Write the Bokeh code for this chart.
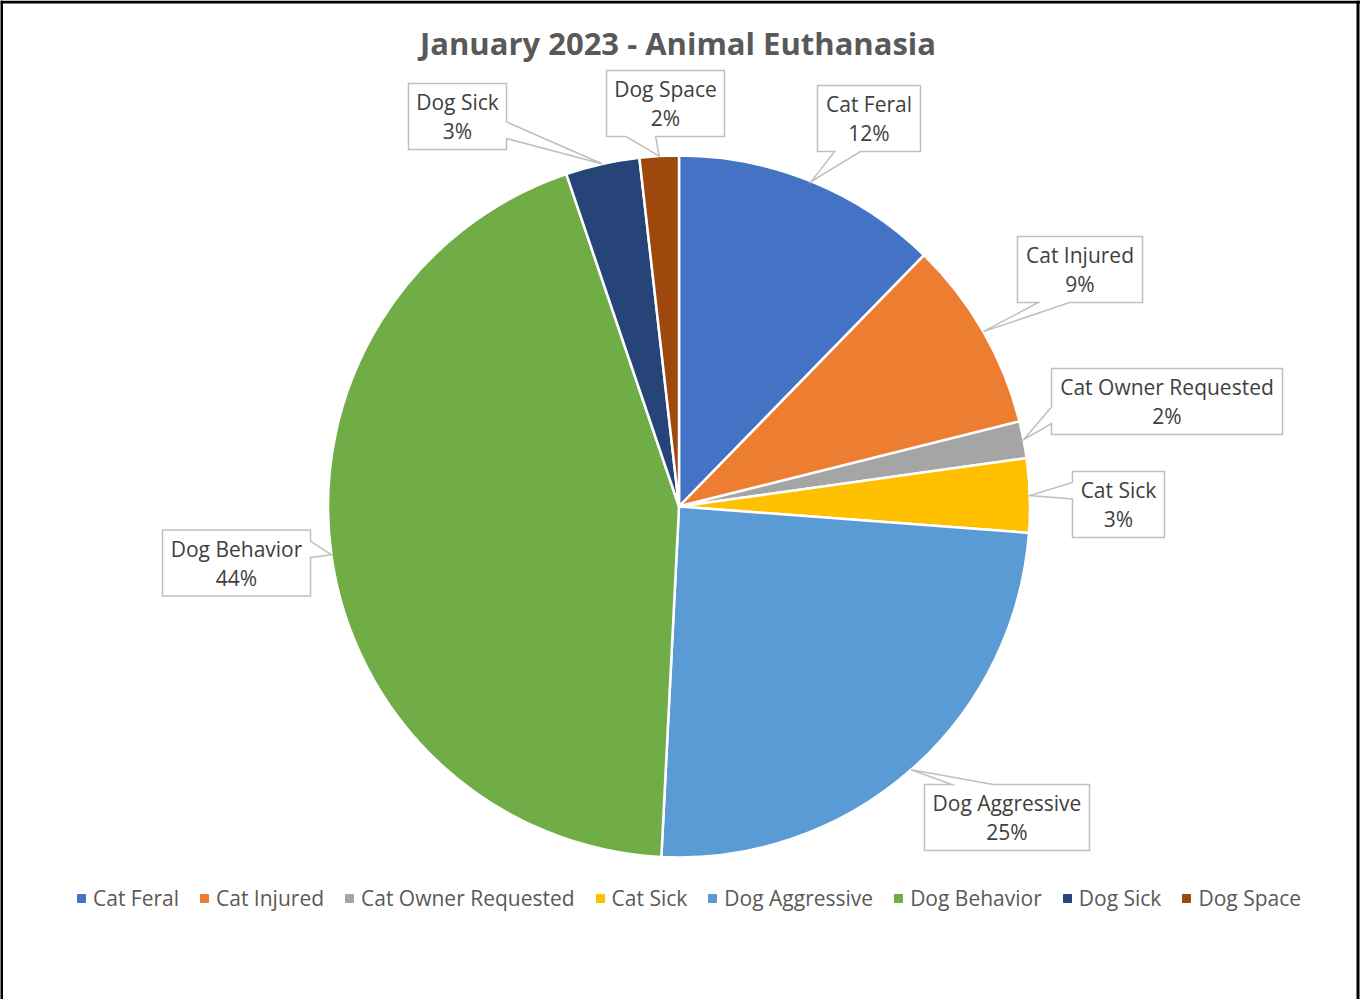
import numpy as np
from bokeh.plotting import figure
from bokeh.models import Range1d, Label, Legend, LegendItem, ColumnDataSource, Span
from bokeh.embed import file_html
from bokeh.resources import INLINE
from bokeh.core.properties import value

# ---------------- data ----------------
TITLE = "January 2023 - Animal Euthanasia"
categories = ["Cat Feral", "Cat Injured", "Cat Owner Requested", "Cat Sick",
              "Dog Aggressive", "Dog Behavior", "Dog Sick", "Dog Space"]
shares = [12.3, 8.8, 1.7, 3.4, 24.6, 44.0, 3.4, 1.8]
colors = ["#4472C4", "#ED7D31", "#A5A5A5", "#FFC000",
          "#5B9BD5", "#70AD47", "#264478", "#9E480E"]

# ---------------- layout (pixels) ----------------
W, H = 1360, 999
CX, CY, R = 678.5, 493.0, 351.0
# data-label box centres relative to the pie centre (y up) and box widths
label_dx = [190, 401, 488, 439.5, 328, -442.5, -221.5, -13.5]
label_dy = [388, 237, 105, 2, -311, -56.5, 390, 403]
label_w = [103, 125, 231, 92, 165, 148, 98, 118]
LABEL_H = 66
FONT = "Open Sans"

vals = np.array(shares, dtype=float)
frac = vals / vals.sum()
cum = np.cumsum(frac)
a0 = 2 * np.pi * (cum - frac)   # clockwise from 12 o'clock
a1 = 2 * np.pi * cum
src = ColumnDataSource(dict(start=np.pi / 2 - a1, end=np.pi / 2 - a0, color=colors))

p = figure(width=W, height=H, x_range=Range1d(0, W), y_range=Range1d(0, H),
           output_backend="svg", toolbar_location=None, min_border=0,
           x_axis_location=None, y_axis_location=None)
p.grid.visible = False
p.outline_line_color = None
p.background_fill_color = "white"
p.border_fill_color = "white"

p.wedge(x=CX, y=CY, radius=R, start_angle="start", end_angle="end",
        fill_color="color", line_color="white", line_width=2.5, source=src)


def callout(cx, cy, w, h, tx, ty):
    l, r, t, b = cx - w / 2, cx + w / 2, cy + h / 2, cy - h / 2
    dx, dy = tx - cx, cy - ty  # dy > 0: tip below centre
    dz = abs(dy) - abs(dx * h / w)
    xg = (7, 10) if dx > 0 else (2, 5)
    yg = (7, 10) if dy > 0 else (2, 5)
    x1, x2 = l + w * xg[0] / 12, l + w * xg[1] / 12
    y1, y2 = t - h * yg[0] / 12, t - h * yg[1] / 12
    xs, ys = [l], [t]
    if dz > 0 and dy < 0:
        xs += [x1, tx, x2]; ys += [t, ty, t]
    xs.append(r); ys.append(t)
    if dz <= 0 and dx > 0:
        xs += [r, tx, r]; ys += [y1, ty, y2]
    xs.append(r); ys.append(b)
    if dz > 0 and dy > 0:
        xs += [x2, tx, x1]; ys += [b, ty, b]
    xs.append(l); ys.append(b)
    if dz <= 0 and dx < 0:
        xs += [l, tx, l]; ys += [y2, ty, y1]
    return xs, ys


mid = (a0 + a1) / 2
tips_x = CX + R * np.sin(mid)
tips_y = CY + R * np.cos(mid)
bx = CX + np.array(label_dx)
by = CY + np.array(label_dy)
pxs, pys = [], []
for i in range(len(categories)):
    xs, ys = callout(bx[i], by[i], label_w[i], LABEL_H, tips_x[i], tips_y[i])
    pxs.append(xs); pys.append(ys)
p.patches(pxs, pys, fill_color="white", line_color="#BFBFBF", line_width=1.5,
          line_join="miter")

pct = [f"{int(round(f * 100))}%" for f in frac]
lab_src = ColumnDataSource(dict(x=bx, y1=by + 14.5, y2=by - 14.5, name=categories, pct=pct))
for ycol, tcol in (("y1", "name"), ("y2", "pct")):
    p.text(x="x", y=ycol, text=tcol, source=lab_src, text_font=value(FONT),
           text_font_size="21px", text_color="#404040", text_align="center",
           text_baseline="middle")

p.add_layout(Label(x=677.5, y=957, text=TITLE, text_font=FONT, text_font_style="bold",
                   text_font_size="31px", text_color="#595959", text_align="center",
                   text_baseline="middle"))

# legend
leg_src = ColumnDataSource(dict(x=[np.nan] * len(categories), y=[np.nan] * len(categories),
                                color=colors))
lr = p.scatter("x", "y", marker="square", size=8, color="color", source=leg_src)
items = [LegendItem(label=c, renderers=[lr], index=i) for i, c in enumerate(categories)]
legend = Legend(items=items, orientation="horizontal", location=(71, 87),
                glyph_width=20, glyph_height=20, label_standoff=2, spacing=15,
                padding=0, margin=0, border_line_color=None, background_fill_alpha=0,
                label_text_font=FONT, label_text_font_size="21px",
                label_text_color="#595959")
p.add_layout(legend)

# chart border (left, top, right)
for loc, dim in ((1.0, "height"), (W - 2.5, "height"), (H - 1.5, "width")):
    p.add_layout(Span(location=loc, dimension=dim, line_color="black", line_width=3))

open("out.html", "w").write(file_html(p, INLINE))
